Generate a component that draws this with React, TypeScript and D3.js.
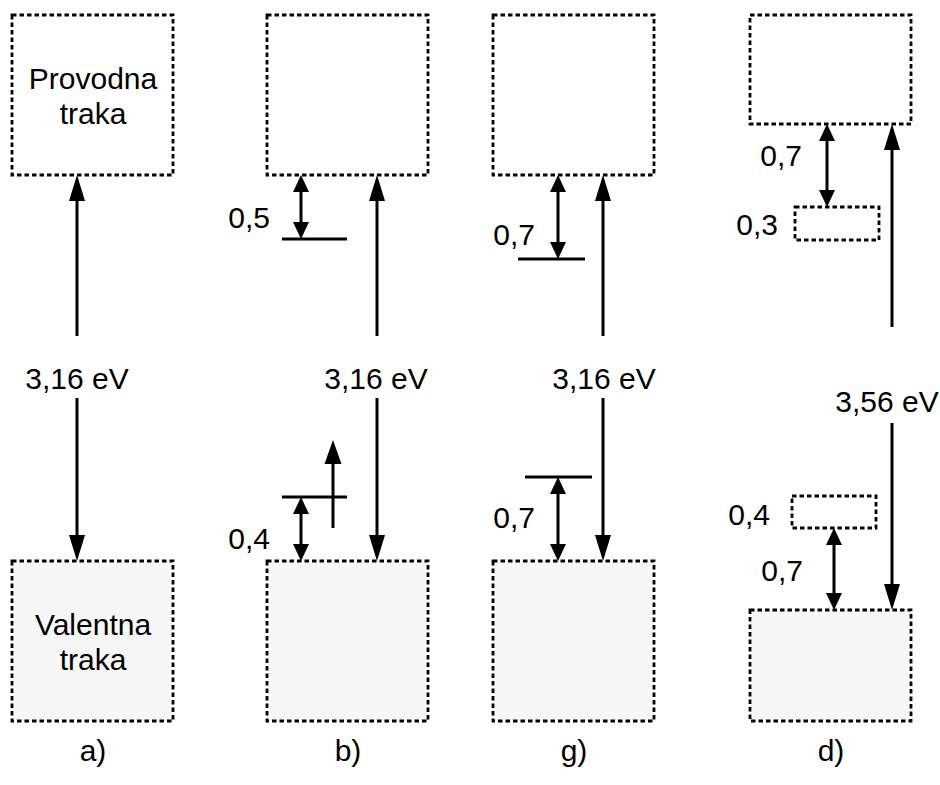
import React from "react";
import * as d3 from "d3";

// ---- data ----
const panelNames = ["a)", "b)", "g)", "d)"];
const gapLabels = ["3,16 eV", "3,16 eV", "3,16 eV", "3,56 eV"];
const bandNames = ["Provodna traka", "Valentna traka"];
const donorLabels = ["", "0,5", "0,7", "0,7"];
const acceptorLabels = ["", "0,4", "0,7", "0,7"];
const donorBandWidthLabels = ["", "", "", "0,3"];
const acceptorBandWidthLabels = ["", "", "", "0,4"];

const W = 940, H = 785;

// layout scales
const xPanel = d3.scaleOrdinal<string, number>().domain(panelNames).range([12, 267, 493, 750]);
const boxW = 161;
const y = d3.scaleLinear().domain([0, 1]).range([15, 721]);

const cbBottom = [175, 175, 175, 124];
const vbTop = [561, 561, 561, 610];

function Arrow({ x, y1, y2, head = 25, hw = 8, sw = 3 }: any) {
  const dir = y2 > y1 ? 1 : -1;
  const base = y2 - dir * head;
  return (
    <g>
      <line x1={x} x2={x} y1={y1} y2={base} stroke="#000" strokeWidth={sw} />
      <polygon points={`${x},${y2} ${x - hw},${base} ${x + hw},${base}`} fill="#000" />
    </g>
  );
}

function DoubleArrow({ x, y1, y2 }: any) {
  const head = 17, hw = 8;
  return (
    <g>
      <line x1={x} x2={x} y1={y1 + head} y2={y2 - head} stroke="#000" strokeWidth={3} />
      <polygon points={`${x},${y1} ${x - hw},${y1 + head} ${x + hw},${y1 + head}`} fill="#000" />
      <polygon points={`${x},${y2} ${x - hw},${y2 - head} ${x + hw},${y2 - head}`} fill="#000" />
    </g>
  );
}

const font = { fontFamily: "'Liberation Sans', Arial, sans-serif", fontSize: 30, fill: "#000" } as any;
const dash = { fill: "none", stroke: "#000", strokeWidth: 2.8, strokeDasharray: "4.5,3" } as any;

export default function App() {
  const bigX = [77, 377, 603, 892];
  const gapTop = [336, 336, 336, 327];
  const gapBot = [398, 398, 398, 423];
  const gapTextY = [389, 389, 389, 412];
  const gapTextX = [77, 376, 604, 887];
  return (
    <svg width={W} height={H} style={{ position: "absolute", left: 0, top: 0, background: "#fff" }}>
      {panelNames.map((p, i) => {
        const x0 = xPanel(p);
        return (
          <g key={p}>
            <rect x={x0} y={y(0)} width={boxW} height={cbBottom[i] - y(0)} fill="#fff" {...dash} />
            <rect x={x0} y={vbTop[i]} width={boxW} height={y(1) - vbTop[i]} {...dash} fill="#f7f7f7" />
            <Arrow x={bigX[i]} y1={gapTop[i]} y2={cbBottom[i]} head={26} />
            <Arrow x={bigX[i]} y1={gapBot[i]} y2={vbTop[i]} head={26} />
            <text x={gapTextX[i]} y={gapTextY[i]} textAnchor="middle" {...font}>{gapLabels[i]}</text>
            <text x={x0 + 81} y={761} textAnchor="middle" {...font}>{p}</text>
          </g>
        );
      })}
      <text x={93} y={89} textAnchor="middle" {...font}>{bandNames[0].split(" ")[0]}</text>
      <text x={93} y={124} textAnchor="middle" {...font}>{bandNames[0].split(" ")[1]}</text>
      <text x={93} y={635} textAnchor="middle" {...font}>{bandNames[1].split(" ")[0]}</text>
      <text x={93} y={670} textAnchor="middle" {...font}>{bandNames[1].split(" ")[1]}</text>

      {/* panel b */}
      <line x1={282} x2={347} y1={239} y2={239} stroke="#000" strokeWidth={3} />
      <DoubleArrow x={301} y1={175} y2={239} />
      <text x={270} y={228} textAnchor="end" {...font}>{donorLabels[1]}</text>
      <line x1={282} x2={347} y1={497} y2={497} stroke="#000" strokeWidth={3} />
      <DoubleArrow x={301} y1={497} y2={561} />
      <text x={270} y={549} textAnchor="end" {...font}>{acceptorLabels[1]}</text>
      <Arrow x={333} y1={528} y2={440} head={24} hw={8.5} />

      {/* panel g */}
      <line x1={518} x2={585} y1={259} y2={259} stroke="#000" strokeWidth={3} />
      <DoubleArrow x={558} y1={175} y2={259} />
      <text x={535} y={245} textAnchor="end" {...font}>{donorLabels[2]}</text>
      <line x1={525} x2={592} y1={477} y2={477} stroke="#000" strokeWidth={3} />
      <DoubleArrow x={558} y1={477} y2={561} />
      <text x={535} y={528} textAnchor="end" {...font}>{acceptorLabels[2]}</text>

      {/* panel d */}
      <rect x={795} y={207} width={84} height={33} {...dash} />
      <DoubleArrow x={827} y1={124} y2={207} />
      <text x={802} y={166} textAnchor="end" {...font}>{donorLabels[3]}</text>
      <text x={778} y={235} textAnchor="end" {...font}>{donorBandWidthLabels[3]}</text>
      <rect x={792} y={496} width={84} height={32} {...dash} />
      <DoubleArrow x={834} y1={528} y2={610} />
      <text x={770} y={525} textAnchor="end" {...font}>{acceptorBandWidthLabels[3]}</text>
      <text x={803} y={581} textAnchor="end" {...font}>{acceptorLabels[3]}</text>
    </svg>
  );
}
